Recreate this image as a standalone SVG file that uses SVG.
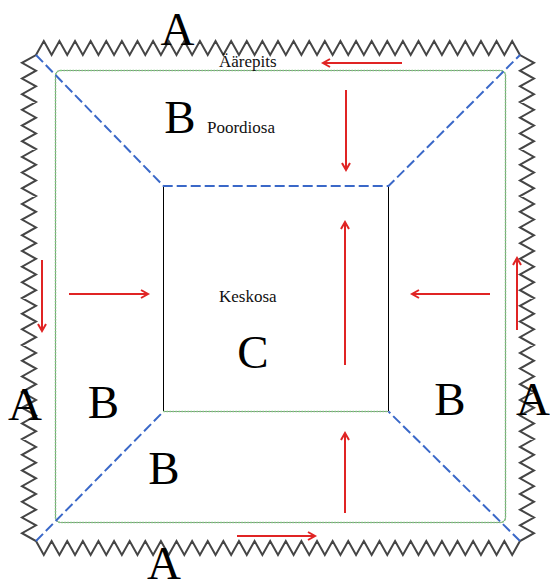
<svg xmlns="http://www.w3.org/2000/svg" width="550" height="580" viewBox="0 0 550 580">
<defs>
<style>
.zig{fill:none;stroke:#454545;stroke-width:2;stroke-linejoin:miter}
.blue{fill:none;stroke:#3a68c8;stroke-width:2;stroke-dasharray:10 4}
.greenA{fill:none;stroke:#5f6f5f;stroke-width:0.8}
.greenB{fill:none;stroke:#7fcf7f;stroke-width:1.6;stroke-dasharray:1.5 1.5}
.blk{fill:none;stroke:#000;stroke-width:1}
.arr{fill:none;stroke:#e02424;stroke-width:2;marker-end:url(#ah)}
.big{font-family:"Liberation Serif","Times New Roman",serif;font-size:47px;fill:#000;text-anchor:middle}
.sm{font-family:"Liberation Serif","Times New Roman",serif;font-size:17px;fill:#111}
</style>
<marker id="ah" markerUnits="userSpaceOnUse" markerWidth="12" markerHeight="12" refX="8" refY="5" orient="auto">
<path d="M1,1 L8,5 L1,9" fill="none" stroke="#e02424" stroke-width="2"/>
</marker>
</defs>
<g id="border">
<path class="zig" d="M36,55
l7.806,-14 7.806,14 7.806,-14 7.806,14 7.806,-14 7.806,14 7.806,-14 7.806,14 7.806,-14 7.806,14
7.806,-14 7.806,14 7.806,-14 7.806,14 7.806,-14 7.806,14 7.806,-14 7.806,14 7.806,-14 7.806,14
7.806,-14 7.806,14 7.806,-14 7.806,14 7.806,-14 7.806,14 7.806,-14 7.806,14 7.806,-14 7.806,14
7.806,-14 7.806,14 7.806,-14 7.806,14 7.806,-14 7.806,14 7.806,-14 7.806,14 7.806,-14 7.806,14
7.806,-14 7.806,14 7.806,-14 7.806,14 7.806,-14 7.806,14 7.806,-14 7.806,14 7.806,-14 7.806,14
7.806,-14 7.806,14 7.806,-14 7.806,14 7.806,-14 7.806,14 7.806,-14 7.806,14 7.806,-14 7.806,14
7.806,-14 7.806,14
l14,7.839 -14,7.839 14,7.839 -14,7.839 14,7.839 -14,7.839 14,7.839 -14,7.839 14,7.839 -14,7.839
14,7.839 -14,7.839 14,7.839 -14,7.839 14,7.839 -14,7.839 14,7.839 -14,7.839 14,7.839 -14,7.839
14,7.839 -14,7.839 14,7.839 -14,7.839 14,7.839 -14,7.839 14,7.839 -14,7.839 14,7.839 -14,7.839
14,7.839 -14,7.839 14,7.839 -14,7.839 14,7.839 -14,7.839 14,7.839 -14,7.839 14,7.839 -14,7.839
14,7.839 -14,7.839 14,7.839 -14,7.839 14,7.839 -14,7.839 14,7.839 -14,7.839 14,7.839 -14,7.839
14,7.839 -14,7.839 14,7.839 -14,7.839 14,7.839 -14,7.839 14,7.839 -14,7.839 14,7.839 -14,7.839
14,7.839 -14,7.839
l-7.806,14 -7.806,-14 -7.806,14 -7.806,-14 -7.806,14 -7.806,-14 -7.806,14 -7.806,-14 -7.806,14 -7.806,-14
-7.806,14 -7.806,-14 -7.806,14 -7.806,-14 -7.806,14 -7.806,-14 -7.806,14 -7.806,-14 -7.806,14 -7.806,-14
-7.806,14 -7.806,-14 -7.806,14 -7.806,-14 -7.806,14 -7.806,-14 -7.806,14 -7.806,-14 -7.806,14 -7.806,-14
-7.806,14 -7.806,-14 -7.806,14 -7.806,-14 -7.806,14 -7.806,-14 -7.806,14 -7.806,-14 -7.806,14 -7.806,-14
-7.806,14 -7.806,-14 -7.806,14 -7.806,-14 -7.806,14 -7.806,-14 -7.806,14 -7.806,-14 -7.806,14 -7.806,-14
-7.806,14 -7.806,-14 -7.806,14 -7.806,-14 -7.806,14 -7.806,-14 -7.806,14 -7.806,-14 -7.806,14 -7.806,-14
-7.806,14 -7.806,-14
l-14,-7.839 14,-7.839 -14,-7.839 14,-7.839 -14,-7.839 14,-7.839 -14,-7.839 14,-7.839 -14,-7.839 14,-7.839
-14,-7.839 14,-7.839 -14,-7.839 14,-7.839 -14,-7.839 14,-7.839 -14,-7.839 14,-7.839 -14,-7.839 14,-7.839
-14,-7.839 14,-7.839 -14,-7.839 14,-7.839 -14,-7.839 14,-7.839 -14,-7.839 14,-7.839 -14,-7.839 14,-7.839
-14,-7.839 14,-7.839 -14,-7.839 14,-7.839 -14,-7.839 14,-7.839 -14,-7.839 14,-7.839 -14,-7.839 14,-7.839
-14,-7.839 14,-7.839 -14,-7.839 14,-7.839 -14,-7.839 14,-7.839 -14,-7.839 14,-7.839 -14,-7.839 14,-7.839
-14,-7.839 14,-7.839 -14,-7.839 14,-7.839 -14,-7.839 14,-7.839 -14,-7.839 14,-7.839 -14,-7.839 14,-7.839
-14,-7.839 14,-7.839 Z"/>
</g>
<g id="inner-frame">
<rect class="greenA" x="55.5" y="70.5" width="450" height="452" rx="5"/>
<rect class="greenB" x="55.5" y="70.5" width="450" height="452" rx="5"/>
</g>
<g id="centre">
<line class="blk" x1="163.5" y1="186" x2="163.5" y2="411"/>
<line class="blk" x1="388.5" y1="186" x2="388.5" y2="411"/>
<line class="greenA" x1="163.5" y1="411.5" x2="388.5" y2="411.5"/>
<line class="greenB" x1="163.5" y1="411.5" x2="388.5" y2="411.5"/>
</g>
<g id="dividers">
<path class="blue" d="M36,55 L163.5,186 L388.5,186 L520,55"/>
<path class="blue" d="M36,541 L163.5,411.5"/>
<path class="blue" d="M520,541 L388.5,411.5"/>
</g>
<g id="connectors">
<line class="arr" x1="402" y1="63" x2="323" y2="63"/>
<line class="arr" x1="346" y1="90" x2="346" y2="170"/>
<line class="arr" x1="42" y1="260" x2="42" y2="331"/>
<line class="arr" x1="69" y1="294" x2="148" y2="294"/>
<line class="arr" x1="490" y1="294" x2="412" y2="294"/>
<line class="arr" x1="517" y1="330" x2="517" y2="258"/>
<line class="arr" x1="345" y1="365" x2="345" y2="222"/>
<line class="arr" x1="345" y1="513" x2="345" y2="433"/>
<line class="arr" x1="237" y1="536" x2="315" y2="536"/>
</g>
<g id="labels">
<text class="big" x="177.5" y="45">A</text>
<text class="sm" x="219" y="67">Äärepits</text>
<text class="big" x="180" y="133">B</text>
<text class="sm" x="207" y="133">Poordiosa</text>
<text class="sm" x="219" y="302">Keskosa</text>
<text class="big" x="253" y="368">C</text>
<text class="big" x="25" y="420">A</text>
<text class="big" x="103.5" y="418">B</text>
<text class="big" x="164" y="484">B</text>
<text class="big" x="450" y="415">B</text>
<text class="big" x="533" y="415">A</text>
<text class="big" x="164" y="579">A</text>
</g>
</svg>
